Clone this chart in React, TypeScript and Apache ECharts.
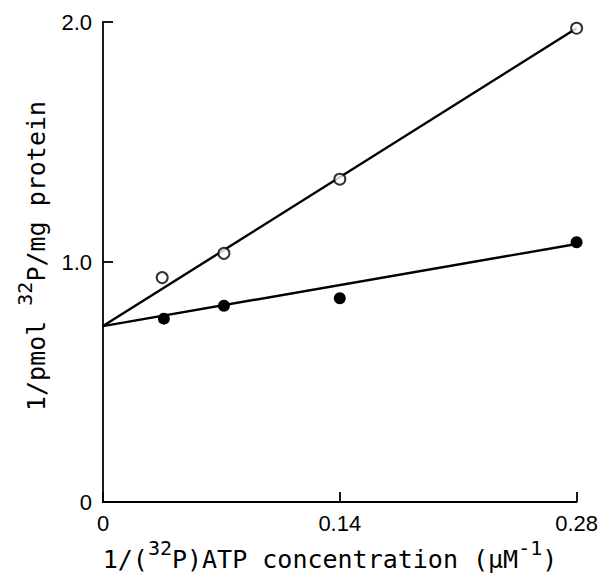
import React, { useEffect, useRef } from "react";
import * as echarts from "echarts";

const xTicks = [0, 0.14, 0.28];
const yTicks = [0, 1.0, 2.0];
const openPoints: [number, number][] = [
  [0.035, 0.935],
  [0.0715, 1.036],
  [0.14, 1.345],
  [0.28, 1.974],
];
const filledPoints: [number, number][] = [
  [0.036, 0.764],
  [0.0715, 0.818],
  [0.14, 0.849],
  [0.28, 1.082],
];
const openFit: [number, number][] = [
  [0, 0.733],
  [0.28, 1.974],
];
const filledFit: [number, number][] = [
  [0, 0.733],
  [0.28, 1.075],
];

const TICK_FONT = "'Liberation Sans', Arial, sans-serif";
const TITLE_FONT = "'DejaVu Sans Mono', monospace";
const INK = "#000";

export default function App() {
  const ref = useRef<HTMLDivElement>(null);
  useEffect(() => {
    if (!ref.current) return;
    const chart = echarts.init(ref.current, undefined, { renderer: "svg" });
    const rich = {
      t: { fontSize: 25, fontFamily: TITLE_FONT, color: INK, lineHeight: 34, verticalAlign: "bottom" as const },
      s: { fontSize: 20, fontFamily: TITLE_FONT, color: INK, lineHeight: 20, verticalAlign: "top" as const },
    };
    chart.setOption({
      animation: false,
      backgroundColor: "#fff",
      grid: { left: 103, top: 22, right: 23, bottom: 75, containLabel: false },
      xAxis: {
        type: "value",
        min: xTicks[0],
        max: xTicks[xTicks.length - 1],
        interval: 0.14,
        splitLine: { show: false },
        axisLine: { show: true, lineStyle: { color: INK, width: 1.8 } },
        axisTick: { show: true, inside: true, length: 10, lineStyle: { color: INK, width: 1.8 } },
        axisLabel: {
          margin: 10,
          fontSize: 22,
          fontFamily: TICK_FONT,
          color: INK,
          formatter: (v: number) => (v === 0 ? "0" : v.toFixed(2)),
        },
      },
      yAxis: {
        type: "value",
        min: yTicks[0],
        max: yTicks[yTicks.length - 1],
        interval: 1,
        splitLine: { show: false },
        axisLine: { show: true, lineStyle: { color: INK, width: 1.8 } },
        axisTick: { show: true, inside: true, length: 10, lineStyle: { color: INK, width: 1.8 } },
        axisLabel: {
          margin: 11,
          fontSize: 22,
          fontFamily: TICK_FONT,
          color: INK,
          formatter: (v: number) => (v === 0 ? "0" : v.toFixed(1)),
        },
      },
      graphic: [
        {
          type: "text",
          x: 32,
          y: 256,
          rotation: Math.PI / 2,
          style: {
            text: "{t|1/pmol }{s|32}{t|P/mg protein}",
            rich,
            align: "center",
            verticalAlign: "middle",
          },
        },
        {
          type: "text",
          x: 330,
          y: 555,
          style: {
            text: "{t|1/(}{s|32}{t|P)ATP concentration (μM}{s|-1}{t|)}",
            rich,
            align: "center",
            verticalAlign: "middle",
          },
        },
      ],
      series: [
        {
          type: "line",
          data: openFit,
          showSymbol: false,
          symbol: "none",
          lineStyle: { color: INK, width: 2.4 },
          z: 1,
        },
        {
          type: "line",
          data: filledFit,
          showSymbol: false,
          symbol: "none",
          lineStyle: { color: INK, width: 2.4 },
          z: 1,
        },
        {
          type: "scatter",
          data: openPoints,
          symbol: "circle",
          symbolSize: 11,
          itemStyle: { color: "#fff", borderColor: INK, borderWidth: 2 },
          z: 3,
        },
        {
          type: "scatter",
          data: filledPoints,
          symbol: "circle",
          symbolSize: 12,
          itemStyle: { color: INK, opacity: 1 },
          emphasis: { disabled: true },
          z: 3,
        },
      ],
    });
    return () => chart.dispose();
  }, []);
  return (
    <div
      ref={ref}
      style={{ position: "absolute", left: 0, top: 0, width: 601, height: 577, background: "#fff" }}
    />
  );
}
